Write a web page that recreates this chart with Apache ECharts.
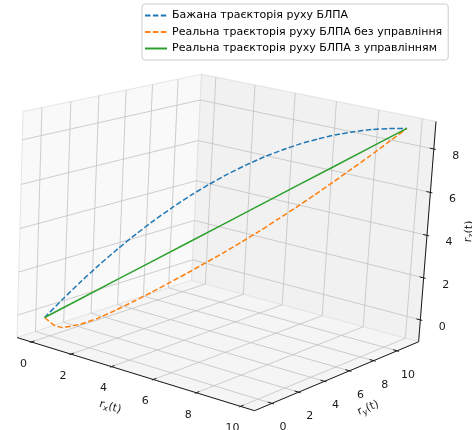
<!DOCTYPE html>
<html><head><meta charset="utf-8">
<script src="https://cdn.jsdelivr.net/npm/echarts@6/dist/echarts.min.js"></script>
<style>html,body{margin:0;padding:0;background:#fff}#c{width:472px;height:430px}</style>
</head><body><div id="c"></div>
<script>
// ---------------- data ----------------
const seriesNames = ['Бажана траєкторія руху БЛПА', 'Реальна траєкторія руху БЛПА без управління', 'Реальна траєкторія руху БЛПА з управлінням'];
const xTicks = [0, 2, 4, 6, 8, 10];
const yTicks = [0, 2, 4, 6, 8, 10];
const zTicks = [0, 2, 4, 6, 8];
const desiredX = [0,0.5,1,1.5,2,2.5,3,3.5,4,4.5,5,5.5,6,6.5,7,7.5,8,8.5,9,9.5,10];
const desiredY = [-0.4,0.15,0.7,1.25,1.8,2.35,2.9,3.45,4.0,4.55,5.1,5.65,6.2,6.75,7.3,7.85,8.4,8.95,9.5,10.05,10.6];
const desiredZ = [-0.1,0.78,1.62,2.41,3.16,3.86,4.52,5.13,5.7,6.22,6.7,7.13,7.52,7.86,8.16,8.41,8.62,8.78,8.9,8.97,9.0];
const freeX = [0,0.25,0.5,1,1.5,2,2.5,3,3.5,4,4.5,5,5.5,6,6.5,7,7.5,8,8.5,9,9.5,10];
const freeY = [-0.4,-0.13,0.15,0.7,1.25,1.8,2.35,2.9,3.45,4.0,4.55,5.1,5.65,6.2,6.75,7.3,7.85,8.4,8.95,9.5,10.05,10.6];
const freeZ = [-0.1,-0.42,-0.55,-0.39,-0.09,0.3,0.73,1.17,1.64,2.11,2.6,3.09,3.61,4.14,4.7,5.27,5.86,6.46,7.08,7.7,8.35,9.0];
const ctrlX = [0,1,2,3,4,5,6,7,8,9,10];
const ctrlY = [-0.4,0.7,1.8,2.9,4.0,5.1,6.2,7.3,8.4,9.5,10.6];
const ctrlZ = [-0.1,0.81,1.72,2.63,3.54,4.45,5.36,6.27,7.18,8.09,9.0];

// ---------------- 3D view (perspective camera) ----------------
const VIEW = {elev:15.453, azim:-53.762, roll:-3.037, dist:7.305, focal:2160.9, cx:226.08, cy:229.71, aspectY:0.9625, aspectZ:0.7836};
const X0 = -0.740, X1 = 10.619, Y0 = -1.271, Y1 = 11.887, Z0 = -1.050, Z1 = 9.258;

function p3(x, y, z){
  const nx=(x-X0)/(X1-X0), ny=(y-Y0)/(Y1-Y0), nz=(z-Z0)/(Z1-Z0);
  const e=VIEW.elev*Math.PI/180, a=VIEW.azim*Math.PI/180, r=VIEW.roll*Math.PI/180;
  const qx=nx-0.5, qy=(ny-0.5)*VIEW.aspectY, qz=(nz-0.5)*VIEW.aspectZ;
  const ce=Math.cos(e), se=Math.sin(e), ca=Math.cos(a), sa=Math.sin(a);
  const xv=-sa*qx+ca*qy;
  const yv=-se*ca*qx-se*sa*qy+ce*qz;
  const zv=ce*ca*qx+ce*sa*qy+se*qz;
  const d=VIEW.dist-zv;
  const X=xv/d, Y=yv/d;
  const cr=Math.cos(r), sr=Math.sin(r);
  return [VIEW.cx+VIEW.focal*(cr*X-sr*Y), VIEW.cy-VIEW.focal*(sr*X+cr*Y)];
}

// ---------------- scene ----------------
const dX=(X1-X0)/12.5, dY=(Y1-Y0)/12.5;
const panes = [
  {pts:[[X0,Y0,Z0],[X0,Y1,Z0],[X0,Y1,Z1],[X0,Y0,Z1]], fill:'#f9f9f9', stroke:'#e6e6e6'},
  {pts:[[X0,Y1,Z0],[X1,Y1,Z0],[X1,Y1,Z1],[X0,Y1,Z1]], fill:'#f1f1f1', stroke:'#e2e2e2'},
  {pts:[[X0,Y0,Z0],[X1,Y0,Z0],[X1,Y1,Z0],[X0,Y1,Z0]], fill:'#f5f5f5', stroke:'#e6e6e6'}
];
const segs = [];
xTicks.forEach(x=>segs.push({pts:[[x,Y0,Z0],[x,Y1,Z0],[x,Y1,Z1]], c:'#c2c2c2', w:0.8}));
yTicks.forEach(y=>segs.push({pts:[[X1,y,Z0],[X0,y,Z0],[X0,y,Z1]], c:'#c2c2c2', w:0.8}));
zTicks.forEach(z=>segs.push({pts:[[X0,Y0,z],[X0,Y1,z],[X1,Y1,z]], c:'#c2c2c2', w:0.8}));
const axes = [];
axes.push({pts:[[X0,Y0,Z0],[X1,Y0,Z0]], c:'#1a1a1a', w:1});
axes.push({pts:[[X1,Y0,Z0],[X1,Y1,Z0]], c:'#1a1a1a', w:1});
axes.push({pts:[[X1,Y1,Z0],[X1,Y1,Z1]], c:'#1a1a1a', w:1});
xTicks.forEach(x=>axes.push({pts:[[x,Y0+0.2*dY,Z0],[x,Y0-0.1*dY,Z0]], c:'#1a1a1a', w:1}));
yTicks.forEach(y=>axes.push({pts:[[X1-0.2*dX,y,Z0],[X1+0.1*dX,y,Z0]], c:'#1a1a1a', w:1}));
zTicks.forEach(z=>axes.push({pts:[[X1-0.2*dX,Y1,z],[X1+0.1*dX,Y1,z]], c:'#1a1a1a', w:1}));

const texts = [];
xTicks.forEach(x=>{ const s=p3(x,Y0,Z0); texts.push({p:[s[0]-8,s[1]+22], t:String(x), rot:0}); });
yTicks.forEach(y=>{ const s=p3(X1,y,Z0); texts.push({p:[s[0]+11,s[1]+24], t:String(y), rot:0}); });
zTicks.forEach(z=>{ const s=p3(X1,Y1,z); texts.push({p:[s[0]+22,s[1]+7], t:String(z), rot:0}); });
{ const s=p3(5,Y0,Z0); texts.push({p:[s[0]-22,s[1]+34], t:'r{s|x}(t)', rot:-16.5}); }
{ const s=p3(X1,5,Z0); texts.push({p:[s[0]+31,s[1]+32], t:'r{s|y}(t)', rot:23}); }
{ const s=p3(X1,Y1,4); texts.push({p:[s[0]+42,s[1]-4], t:'r{s|z}(t)', rot:85}); }

function polyItem(list, kind){
  return function(params, api){
    const it = list[params.dataIndex];
    const pts = it.pts.map(q=>api.coord(p3(q[0],q[1],q[2])));
    if(kind==='pane') return {type:'polygon', shape:{points:pts}, style:{fill:it.fill, stroke:it.stroke, lineWidth:1}};
    return {type:'polyline', shape:{points:pts}, style:{stroke:it.c, lineWidth:it.w, fill:null}};
  };
}
const traj = (xs,ys,zs)=>xs.map((x,i)=>p3(x,ys[i],zs[i]));

const chart = echarts.init(document.getElementById('c'), null, {renderer:'canvas'});
chart.setOption({
  animation:false,
  backgroundColor:'#ffffff',
  grid:{left:0,right:0,top:0,bottom:0},
  xAxis:{type:'value', min:0, max:472, show:false},
  yAxis:{type:'value', min:0, max:430, inverse:true, show:false},
  legend:{
    data:seriesNames, orient:'vertical', left:142, top:4,
    padding:[6,6,6,2], itemGap:5.5, itemWidth:22, itemHeight:10,
    itemStyle:{opacity:0},
    backgroundColor:'rgba(255,255,255,0.8)', borderColor:'#cccccc', borderWidth:1, borderRadius:3,
    textStyle:{fontFamily:'DejaVu Sans', fontSize:11, color:'#000'}
  },
  series:[
    {type:'custom', z:1, silent:true, clip:false, data:panes.map((p,i)=>[i,0]), renderItem:polyItem(panes,'pane')},
    {type:'custom', z:2, silent:true, clip:false, data:segs.map((p,i)=>[i,0]), renderItem:polyItem(segs,'seg')},
    {type:'custom', z:3, silent:true, clip:false, data:axes.map((p,i)=>[i,0]), renderItem:polyItem(axes,'seg')},
    {name:seriesNames[0], type:'line', z:5, symbol:'none', showSymbol:false, clip:false, smooth:0.2, data:traj(desiredX,desiredY,desiredZ),
      lineStyle:{color:'#1f77b4', width:1.5, type:[5.5,2.4]}, itemStyle:{color:'#1f77b4'}},
    {name:seriesNames[1], type:'line', z:5, symbol:'none', showSymbol:false, clip:false, smooth:0.2, data:traj(freeX,freeY,freeZ),
      lineStyle:{color:'#ff7f0e', width:1.5, type:[5.5,2.4]}, itemStyle:{color:'#ff7f0e'}},
    {name:seriesNames[2], type:'line', z:5, symbol:'none', showSymbol:false, clip:false, data:traj(ctrlX,ctrlY,ctrlZ),
      lineStyle:{color:'#2ca02c', width:1.5}, itemStyle:{color:'#2ca02c'}},
    {type:'custom', z:6, silent:true, clip:false, data:texts.map((p,i)=>[i,0]), renderItem:function(params, api){
      const it=texts[params.dataIndex]; const c=api.coord(it.p);
      return {type:'text', x:c[0], y:c[1], rotation:it.rot*Math.PI/180,
        style:{text:it.t, fill:'#1a1a1a', font:'11px "DejaVu Sans"', align:'center', verticalAlign:'middle',
          rich:{s:{fontSize:8, fontFamily:'DejaVu Sans', fill:'#1a1a1a', padding:[6,0,0,0]}}}};
    }}
  ]
});
</script></body></html>
